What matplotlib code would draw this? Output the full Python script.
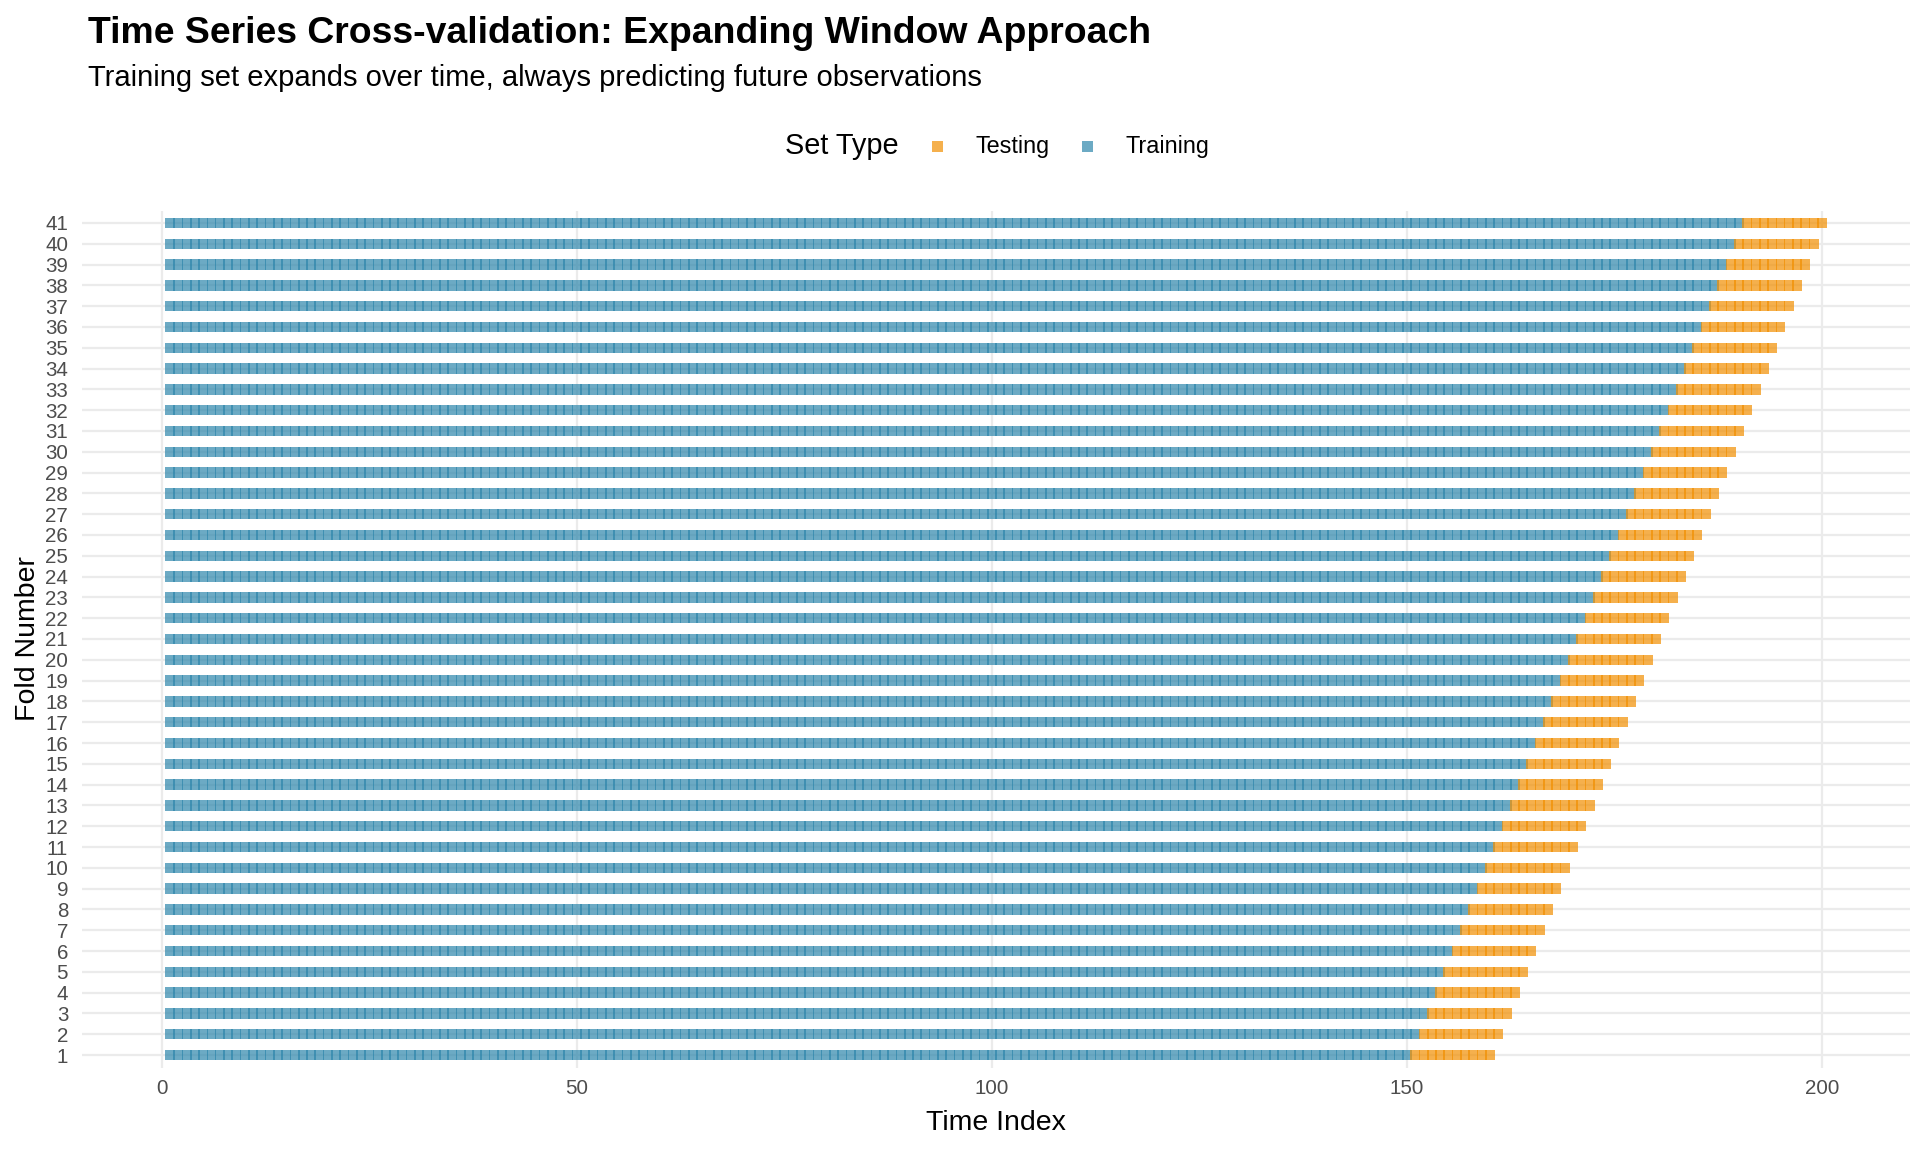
import matplotlib
matplotlib.use("Agg")
import matplotlib.pyplot as plt
from matplotlib.patches import Rectangle

plt.rcParams["font.family"] = ["Liberation Sans", "DejaVu Sans"]

# ── Data ──────────────────────────────────────────────────────────────────────
folds = list(range(1, 42))
train_end = list(range(150, 191))      # last training index per fold
test_size = 10                         # observations predicted per fold

TRAIN_COLOR = "#2E86AB"
TEST_COLOR = "#F18F01"
ALPHA = 0.7
GRID = "#EBEBEB"

fig = plt.figure(figsize=(19.2, 11.52), dpi=100)
ax = fig.add_axes([82 / 1920, 1 - 1067.5 / 1152, 1828 / 1920, 857 / 1152])

for f, te in zip(folds, train_end):
    train_idx = range(1, te + 1)
    test_idx = range(te + 1, te + test_size + 1)
    ax.broken_barh([(t - 0.6, 1.2) for t in train_idx], (f - 0.25, 0.5),
                   facecolors=TRAIN_COLOR, alpha=ALPHA, linewidth=0, zorder=2)
    ax.broken_barh([(t - 0.6, 1.2) for t in test_idx], (f - 0.25, 0.5),
                   facecolors=TEST_COLOR, alpha=ALPHA, linewidth=0, zorder=2)

ax.set_xlim(-9.6, 210.6)
ax.set_ylim(0.4, 41.6)
ax.set_xticks([0, 50, 100, 150, 200])
ax.set_yticks(folds)
ax.set_yticklabels([str(f) for f in folds])
ax.grid(True, color=GRID, linewidth=1.6, zorder=0)
ax.set_axisbelow(True)
for s in ax.spines.values():
    s.set_visible(False)
ax.tick_params(length=0, labelsize=14.8, labelcolor="#4D4D4D")
ax.tick_params(axis="y", pad=10)
ax.tick_params(axis="x", pad=8)
ax.set_xlabel("Time Index", fontsize=20.5, labelpad=9)
ax.set_ylabel("Fold Number", fontsize=20.5, labelpad=3)

# ── Titles ────────────────────────────────────────────────────────────────────
fig.text(88 / 1920, 1 - 43 / 1152, "Time Series Cross-validation: Expanding Window Approach",
         fontsize=26.9, fontweight="bold", ha="left", va="baseline")
fig.text(88 / 1920, 1 - 86 / 1152, "Training set expands over time, always predicting future observations",
         fontsize=21, ha="left", va="baseline")

# ── Legend (horizontal, title on the left) ────────────────────────────────────
ly = 1 - 146 / 1152
fig.text(785 / 1920, ly, "Set Type", fontsize=20.8, ha="left", va="center")
ks = 11
for cx, col, lab, tx in [(937, TEST_COLOR, "Testing", 976), (1087, TRAIN_COLOR, "Training", 1126)]:
    fig.add_artist(Rectangle(((cx - ks / 2) / 1920, ly - (ks / 2) / 1152), ks / 1920, ks / 1152,
                             transform=fig.transFigure, facecolor=col, alpha=ALPHA, linewidth=0))
    fig.text(tx / 1920, ly, lab, fontsize=16.8, ha="left", va="center")

fig.savefig("out.png", dpi=100)
